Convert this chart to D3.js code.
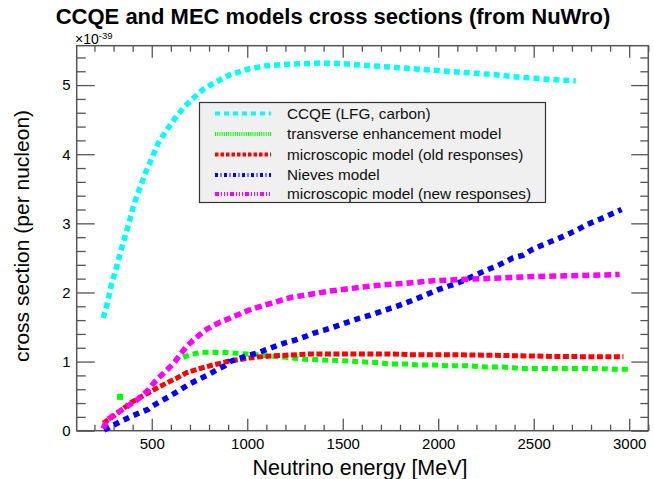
<!DOCTYPE html>
<html><head><meta charset="utf-8">
<script src="https://cdn.jsdelivr.net/npm/d3@7"></script>
<style>body{margin:0;background:#fff}svg{display:block}text{font-family:"Liberation Sans",Arial,sans-serif}</style>
</head><body><svg id="c" width="654" height="479"></svg>
<script>
// ---- data (cross section in units of 1e-39, energy in MeV) ----
const ccqeE = [246,267,290,316,337,360,382,403,421,447,470,500,534,578,622,665,717,770,840,909,1000,1100,1200,1300,1400,1500,1600,1700,1800,1900,2000,2100,2200,2300,2400,2500,2600,2720];
const ccqeV = [1.63,1.84,2.13,2.37,2.59,2.81,3.02,3.24,3.39,3.58,3.75,3.94,4.16,4.35,4.52,4.67,4.81,4.94,5.05,5.15,5.23,5.28,5.30,5.31,5.32,5.31,5.29,5.27,5.25,5.23,5.21,5.19,5.17,5.15,5.12,5.10,5.08,5.06];

const teE = [665,700,752,805,857,901,945,997,1049,1119,1215,1276,1328,1424,1529,1573,1642,1695,1738,1843,1886,1974,2052,2148,2253,2340,2445,2550,2650,2760,2847,2899,3004];
const teV = [1.06,1.10,1.13,1.135,1.13,1.13,1.12,1.11,1.10,1.08,1.06,1.04,1.03,1.02,1.01,1.0,0.99,0.985,0.965,0.965,0.95,0.95,0.94,0.94,0.92,0.92,0.90,0.90,0.90,0.90,0.90,0.89,0.89];
const teOutE = [334];
const teOutV = [0.49];

const oldE = [246,290,334,386,438,490,543,586,630,683,752,805,857,909,962,1031,1119,1224,1328,1433,1538,1642,1747,1852,2000,2200,2400,2600,2800,2970];
const oldV = [0.11,0.19,0.28,0.40,0.48,0.56,0.64,0.70,0.76,0.84,0.90,0.94,0.975,1.01,1.03,1.06,1.08,1.095,1.11,1.11,1.11,1.11,1.11,1.10,1.10,1.095,1.085,1.075,1.07,1.07];

const nievesE = [250,334,403,482,500,543,595,648,700,752,796,840,883,909,997,1058,1154,1197,1250,1302,1345,1398,1442,1494,1590,1642,1695,1738,1782,1869,1913,2000,2052,2096,2131,2218,2267,2305,2392,2445,2497,2593,2637,2685,2724,2777,2872,2960];
const nievesV = [0.01,0.13,0.22,0.31,0.35,0.42,0.50,0.59,0.68,0.75,0.81,0.88,0.94,1.0,1.08,1.13,1.23,1.27,1.31,1.36,1.41,1.45,1.49,1.54,1.63,1.67,1.72,1.76,1.80,1.89,1.94,2.04,2.09,2.13,2.17,2.28,2.34,2.38,2.50,2.54,2.63,2.74,2.79,2.85,2.90,2.98,3.09,3.20];

const newE = [246,264,302,365,421,482,517,534,595,622,648,683,717,752,778,814,857,901,945,1005,1049,1093,1136,1180,1232,1302,1389,1433,1520,1607,1712,1817,1974,2148,2323,2497,2672,2950];
const newV = [0.03,0.15,0.23,0.34,0.44,0.59,0.71,0.76,0.92,1.0,1.10,1.22,1.31,1.39,1.45,1.51,1.57,1.62,1.67,1.74,1.78,1.82,1.85,1.89,1.93,1.96,2.0,2.02,2.05,2.08,2.11,2.13,2.17,2.19,2.21,2.23,2.24,2.26];

const seriesNames = ["CCQE (LFG, carbon)","transverse enhancement model","microscopic model (old responses)","Nieves model","microscopic model (new responses)"];
const seriesColors = ["#00ffff","#00ff00","#ff0000","#0000ff","#ff00ff"];
const xMajor = [500,1000,1500,2000,2500,3000];
const yMajor = [0,1,2,3,4,5];
const title = "CCQE and MEC models cross sections (from NuWro)";
const xTitle = "Neutrino energy [MeV]";
const yTitle = "cross section (per nucleon)";

// ---- drawing ----
const svg = d3.select("#c");
const L = 76.7, R = 648.3, T = 45.7, B = 430.7;
const x = d3.scaleLinear().domain([107, 3100]).range([L, R]);
const y = d3.scaleLinear().domain([0, 5.57]).range([B, T]);

const xMinor = d3.range(200, 3101, 100).filter(v => v % 500 !== 0);
const yMinor = d3.range(0, 5.57, 0.2).map(v => +v.toFixed(1)).filter(v => Math.abs(v - Math.round(v)) > 1e-6);

const axCol = "#555";
function styleAxis(g){ g.select(".domain").remove(); g.selectAll("line").attr("stroke", axCol).attr("stroke-width", 1.3); }

// minor ticks
svg.append("g").attr("transform",`translate(0,${B})`).call(d3.axisBottom(x).tickValues(xMinor).tickSize(-6).tickFormat("")).call(styleAxis);
svg.append("g").attr("transform",`translate(0,${T})`).call(d3.axisTop(x).tickValues(xMinor).tickSize(-6).tickFormat("")).call(styleAxis);
svg.append("g").attr("transform",`translate(${L},0)`).call(d3.axisLeft(y).tickValues(yMinor).tickSize(-9).tickFormat("")).call(styleAxis);
svg.append("g").attr("transform",`translate(${R},0)`).call(d3.axisRight(y).tickValues(yMinor).tickSize(-8).tickFormat("")).call(styleAxis);
// major ticks
const gx = svg.append("g").attr("transform",`translate(0,${B})`).call(d3.axisBottom(x).tickValues(xMajor).tickSize(-12).tickPadding(8).tickFormat(d3.format("d"))).call(styleAxis);
svg.append("g").attr("transform",`translate(0,${T})`).call(d3.axisTop(x).tickValues(xMajor).tickSize(-12).tickFormat("")).call(styleAxis);
const gy = svg.append("g").attr("transform",`translate(${L},0)`).call(d3.axisLeft(y).tickValues(yMajor).tickSize(-18).tickPadding(6).tickFormat(d3.format("d"))).call(styleAxis);
svg.append("g").attr("transform",`translate(${R},0)`).call(d3.axisRight(y).tickValues(yMajor).tickSize(-17).tickFormat("")).call(styleAxis);
[gx, gy].forEach(g => g.selectAll("text").attr("fill","#000").style("font-size","15px").style("font-family","'Liberation Sans',Arial,sans-serif"));

// frame
svg.append("rect").attr("x",L).attr("y",T).attr("width",R-L).attr("height",B-T).attr("fill","none").attr("stroke",axCol).attr("stroke-width",1.5);

const line = d3.line().x(d => x(d[0])).y(d => y(d[1]));
const zip = (a,b) => a.map((v,i) => [v,b[i]]);
const plotSeries = [
  {E: ccqeE, V: ccqeV, dash: "6,4", w: 5.5},
  {E: teE, V: teV, dash: "6,4", w: 5},
  {E: oldE, V: oldV, dash: "6,2.5", w: 5},
  {E: nievesE, V: nievesV, dash: "6,5", w: 5.5},
  {E: newE, V: newV, dash: "7,4", w: 5.5}
];
plotSeries.forEach((s,i) => {
  svg.append("path").attr("d", line(zip(s.E, s.V))).attr("fill","none")
    .attr("stroke", seriesColors[i]).attr("stroke-width", s.w).attr("stroke-dasharray", s.dash);
});
svg.selectAll(".out").data(zip(teOutE, teOutV)).join("rect")
  .attr("x", d => x(d[0]) - 3).attr("y", d => y(d[1]) - 3).attr("width", 6).attr("height", 6).attr("fill", seriesColors[1]);

// legend
const lg = svg.append("g");
lg.append("rect").attr("x",199.5).attr("y",102.5).attr("width",346).attr("height",100).attr("fill","#f0f0f0").attr("stroke","#333").attr("stroke-width",1.2);
const legDash = ["5,4","1,1.2","3.5,2","3,2.5,1,2.5","4,2,1,2,1,2,1,2"];
const legY = [113.5,134,154.5,175,194];
seriesNames.forEach((n,i) => {
  lg.append("line").attr("x1",215).attr("x2",271).attr("y1",legY[i]).attr("y2",legY[i])
    .attr("stroke",seriesColors[i]).attr("stroke-width",4).attr("stroke-dasharray",legDash[i]);
  lg.append("text").attr("x",287).attr("y",legY[i]).attr("dy","0.35em").style("font-size","15.3px").attr("fill","#111").text(n);
});

// titles
svg.append("text").attr("x",333).attr("y",24).attr("text-anchor","middle").style("font-size","22px").style("font-weight","bold").text(title);
svg.append("text").attr("x",360).attr("y",475).attr("text-anchor","middle").style("font-size","21.5px").text(xTitle);
svg.append("text").attr("transform","translate(29,236) rotate(-90)").attr("text-anchor","middle").style("font-size","21px").text(yTitle);
const ex = svg.append("text").attr("x",75).attr("y",44).style("font-size","14px");
ex.append("tspan").text("\u00d710");
ex.append("tspan").attr("dy",-5).style("font-size","9.5px").text("-39");
</script></body></html>
